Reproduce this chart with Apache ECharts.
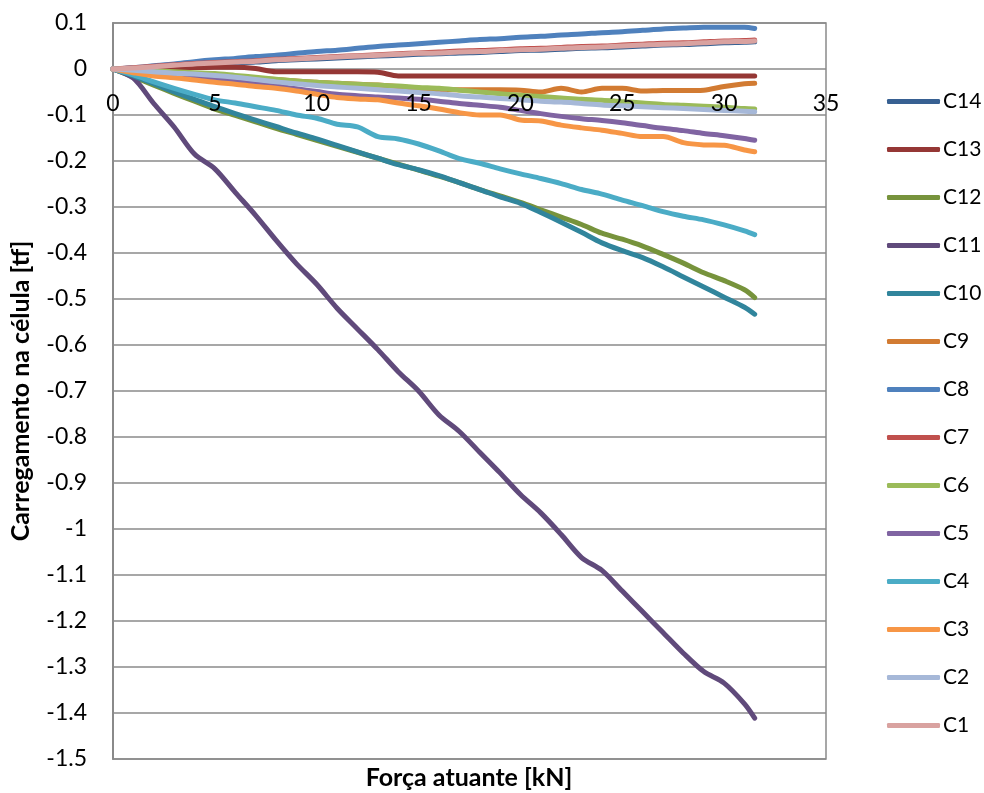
<!DOCTYPE html>
<html>
<head>
<meta charset="utf-8">
<script src="https://cdn.jsdelivr.net/npm/echarts@6/dist/echarts.min.js"></script>
<style>html,body{margin:0;padding:0;background:#fff}#c{width:984px;height:793px}</style>
</head>
<body>
<div id="c"></div>
<script>
var forceKN = [0,1,2,3,4,5,6,7,8,9,10,11,12,13,14,15,16,17,18,19,20,21,22,23,24,25,26,27,28,29,30,31,31.5];
var yTicks = [0.1,0,-0.1,-0.2,-0.3,-0.4,-0.5,-0.6,-0.7,-0.8,-0.9,-1,-1.1,-1.2,-1.3,-1.4,-1.5];
var xTicks = [0,5,10,15,20,25,30,35];
var seriesNames = ['C14','C13','C12','C11','C10','C9','C8','C7','C6','C5','C4','C3','C2','C1'];
var seriesColors = ['#376092','#953735','#77933C','#604A7B','#31859C','#D27B32','#4F81BD','#C0504D','#9BBB59','#8064A2','#4BACC6','#F79646','#A6B8D8','#D9A2A0'];

var C14 = [0,0.002,0.004,0.007,0.009,0.011,0.013,0.015,0.018,0.02,0.022,0.024,0.026,0.028,0.03,0.032,0.033,0.035,0.036,0.038,0.04,0.041,0.043,0.045,0.046,0.048,0.05,0.052,0.053,0.055,0.057,0.058,0.059];
var C13 = [0,0.001,0.001,0.002,0.003,0.004,0.004,0.001,-0.006,-0.006,-0.006,-0.006,-0.006,-0.007,-0.015,-0.015,-0.015,-0.015,-0.015,-0.015,-0.015,-0.015,-0.015,-0.015,-0.015,-0.015,-0.015,-0.015,-0.015,-0.015,-0.015,-0.015,-0.015];
var C12 = [0,-0.017,-0.035,-0.053,-0.07,-0.087,-0.101,-0.115,-0.129,-0.142,-0.155,-0.168,-0.181,-0.194,-0.207,-0.22,-0.233,-0.247,-0.262,-0.276,-0.29,-0.306,-0.322,-0.338,-0.357,-0.37,-0.385,-0.403,-0.422,-0.443,-0.46,-0.48,-0.497];
var C11 = [0,-0.02,-0.075,-0.126,-0.185,-0.217,-0.268,-0.318,-0.372,-0.423,-0.468,-0.52,-0.565,-0.61,-0.658,-0.7,-0.752,-0.788,-0.833,-0.878,-0.925,-0.965,-1.012,-1.062,-1.09,-1.135,-1.18,-1.225,-1.27,-1.31,-1.335,-1.38,-1.411];
var C10 = [0,-0.015,-0.032,-0.05,-0.066,-0.082,-0.097,-0.111,-0.125,-0.139,-0.152,-0.166,-0.18,-0.194,-0.208,-0.219,-0.232,-0.247,-0.262,-0.278,-0.292,-0.312,-0.333,-0.355,-0.378,-0.395,-0.41,-0.43,-0.452,-0.474,-0.496,-0.518,-0.533];
var C9 = [0,-0.002,-0.005,-0.008,-0.011,-0.014,-0.017,-0.02,-0.023,-0.026,-0.029,-0.031,-0.033,-0.035,-0.038,-0.042,-0.045,-0.045,-0.045,-0.045,-0.046,-0.05,-0.042,-0.05,-0.042,-0.042,-0.048,-0.047,-0.047,-0.046,-0.038,-0.032,-0.031];
var C8 = [0,0.003,0.007,0.011,0.016,0.02,0.023,0.027,0.03,0.034,0.038,0.041,0.045,0.049,0.052,0.055,0.058,0.061,0.064,0.066,0.069,0.071,0.074,0.076,0.079,0.081,0.084,0.087,0.089,0.091,0.091,0.091,0.088];
var C7 = [0,0.003,0.006,0.009,0.012,0.014,0.016,0.018,0.021,0.023,0.025,0.027,0.029,0.031,0.033,0.035,0.037,0.039,0.04,0.042,0.044,0.045,0.047,0.049,0.05,0.052,0.054,0.056,0.057,0.059,0.061,0.062,0.063];
var C6 = [0,-0.002,-0.004,-0.006,-0.008,-0.01,-0.014,-0.018,-0.022,-0.026,-0.029,-0.031,-0.033,-0.035,-0.037,-0.04,-0.042,-0.046,-0.05,-0.054,-0.057,-0.06,-0.063,-0.066,-0.068,-0.071,-0.074,-0.077,-0.079,-0.081,-0.083,-0.086,-0.087];
var C5 = [0,-0.004,-0.009,-0.013,-0.018,-0.022,-0.027,-0.032,-0.037,-0.043,-0.049,-0.055,-0.058,-0.061,-0.063,-0.066,-0.07,-0.075,-0.079,-0.083,-0.09,-0.097,-0.103,-0.108,-0.112,-0.117,-0.123,-0.129,-0.134,-0.14,-0.145,-0.151,-0.155];
var C4 = [0,-0.013,-0.028,-0.042,-0.055,-0.067,-0.074,-0.082,-0.09,-0.1,-0.107,-0.12,-0.126,-0.147,-0.152,-0.163,-0.178,-0.195,-0.205,-0.217,-0.228,-0.238,-0.249,-0.262,-0.272,-0.285,-0.297,-0.31,-0.32,-0.328,-0.339,-0.352,-0.36];
var C3 = [0,-0.008,-0.015,-0.019,-0.024,-0.029,-0.033,-0.038,-0.042,-0.048,-0.055,-0.062,-0.065,-0.067,-0.074,-0.08,-0.087,-0.095,-0.1,-0.1,-0.111,-0.113,-0.122,-0.128,-0.133,-0.14,-0.147,-0.147,-0.16,-0.165,-0.166,-0.176,-0.18];
var C2 = [0,-0.003,-0.006,-0.009,-0.011,-0.014,-0.018,-0.023,-0.028,-0.032,-0.036,-0.039,-0.042,-0.045,-0.048,-0.051,-0.054,-0.058,-0.061,-0.064,-0.067,-0.07,-0.072,-0.075,-0.078,-0.08,-0.082,-0.084,-0.086,-0.088,-0.09,-0.092,-0.093];
var C1 = [0,0.002,0.005,0.008,0.011,0.013,0.015,0.017,0.02,0.022,0.024,0.026,0.028,0.03,0.032,0.034,0.035,0.037,0.038,0.04,0.042,0.043,0.045,0.047,0.048,0.05,0.052,0.054,0.055,0.057,0.059,0.06,0.061];

var valuesByName = {C14:C14,C13:C13,C12:C12,C11:C11,C10:C10,C9:C9,C8:C8,C7:C7,C6:C6,C5:C5,C4:C4,C3:C3,C2:C2,C1:C1};

var FONT = 'Lato';
var chart = echarts.init(document.getElementById('c'), null, {renderer: 'canvas'});
var series = seriesNames.map(function (n, i) {
  var vals = valuesByName[n];
  return {
    name: n,
    type: 'line',
    showSymbol: false,
    symbol: 'none',
    smooth: 0.3,
    data: forceKN.map(function (x, k) { return [x, vals[k]]; }),
    lineStyle: {width: 5, color: seriesColors[i], cap: 'round', join: 'round'},
    itemStyle: {color: seriesColors[i]},
    emphasis: {disabled: true}
  };
});

chart.setOption({
  animation: false,
  backgroundColor: '#ffffff',
  grid: {left: 113, right: 158, top: 23, bottom: 34, show: true, borderColor: '#8a8a8a', borderWidth: 1.5},
  xAxis: {
    type: 'value', min: 0, max: 35, interval: 5,
    position: 'bottom', offset: -690, z: 10,
    axisLine: {show: false, onZero: false},
    axisTick: {show: false},
    splitLine: {show: false},
    axisLabel: {
      fontFamily: FONT, fontSize: 23, color: '#000', margin: 23,
      formatter: function (v) { return xTicks.indexOf(v) >= 0 ? String(v) : ''; }
    }
  },
  yAxis: {
    type: 'value', min: -1.5, max: 0.1, interval: 0.1,
    name: 'Carregamento na célula [tf]', nameLocation: 'middle', nameGap: 80,
    nameTextStyle: {fontFamily: FONT, fontSize: 25, fontWeight: 'bold', color: '#000'},
    axisLine: {show: true, onZero: false, lineStyle: {color: '#8a8a8a', width: 2}},
    axisTick: {show: false},
    splitLine: {show: true, lineStyle: {color: '#8a8a8a', width: 1.5}},
    axisLabel: {
      fontFamily: FONT, fontSize: 23, color: '#000', margin: 26,
      formatter: function (v) {
        var r = Math.round(v * 10) / 10;
        var idx = yTicks.indexOf(r);
        return idx >= 0 ? String(yTicks[idx]) : '';
      }
    }
  },
  legend: {
    orient: 'vertical', left: 882, top: 86,
    itemWidth: 53, itemHeight: 5, itemGap: 27,
    icon: 'roundRect',
    textStyle: {fontFamily: FONT, fontSize: 21, color: '#000', lineHeight: 21, padding: [0,0,0,-2]},
    data: seriesNames
  },
  graphic: [{
    type: 'text', x: 469, y: 778,
    style: {text: 'Força atuante [kN]', font: 'bold 25px Lato', fill: '#000', align: 'center', verticalAlign: 'middle'}
  }],
  series: series
});
</script>
</body>
</html>
